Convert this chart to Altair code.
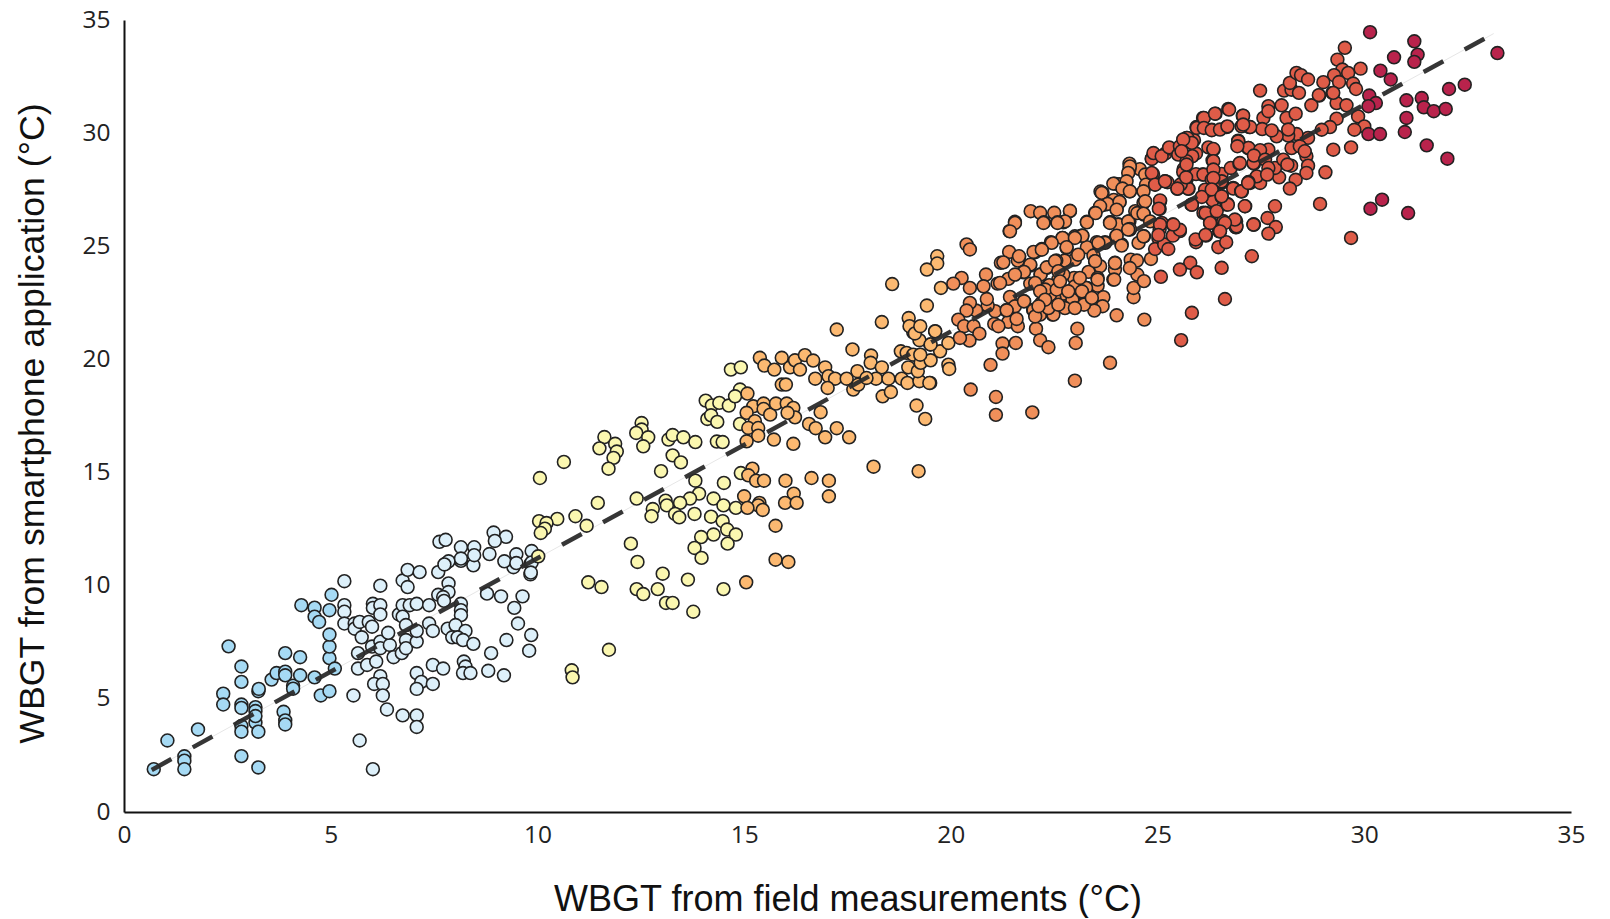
import altair as alt
import pandas as pd

band_names = ["a", "b", "c", "d", "e", "f", "g"]
band_colors = ["#A6DAF4", "#DDF0FA", "#FBF7B0", "#FCB971", "#F08F5A", "#DF5C48", "#B9234C"]

blue = [(.72,1.89),(1.05,3.16),(1.46,2.46),(1.46,2.27),(1.46,1.89),(1.79,3.65),(2.53,7.32),(2.4,5.23),(2.4,4.75),(2.84,6.43),(2.84,5.75),(2.84,4.75),(2.84,4.6),(2.84,3.8),(2.84,3.55),(2.84,2.47),(3.18,4.63),(3.18,4.46),(3.18,3.95),(3.25,3.55),(3.18,4.24),(3.25,1.97),(3.25,5.34),(3.26,5.44),(3.57,5.85),(3.69,6.14),(3.9,7.02),(3.9,6.2),(3.9,6.04),(3.86,4.43),(3.9,4.05),(3.9,3.87),(4.09,5.58),(4.09,5.45),(4.26,6.84),(4.26,6.04),(4.29,9.14),(4.61,5.95),(4.61,9.03),(4.61,8.63),(4.72,8.4),(4.76,5.15),(4.97,5.34),(4.97,6.8),(4.97,7.31),(4.97,7.84),(4.97,8.92),(5.02,9.6),(5.1,6.34)]

light = [(5.33,10.2),(5.33,9.14),(5.33,8.85),(5.33,8.33),(5.58,8.33),(5.58,8.1),(5.55,5.15),(5.7,3.16),(6.02,1.89),(5.66,7.02),(5.66,6.34),(5.75,7.72),(5.7,8.4),(5.92,8.4),(6.0,8.19),(5.88,6.5),(6.0,7.31),(6.1,6.65),(6.2,6.0),(6.05,5.66),(6.26,5.66),(6.26,5.15),(6.36,4.53),(6.2,10.0),(6.02,9.2),(6.02,9.02),(6.2,9.14),(6.2,8.73),(6.2,7.53),(6.2,7.24),(6.43,7.38),(6.39,7.92),(6.52,6.84),(6.72,7.02),(6.74,10.23),(6.86,9.94),(6.86,10.7),(7.15,10.6),(6.65,8.73),(6.74,9.14),(6.74,8.63),(6.82,8.26),(6.82,7.6),(6.82,7.24),(7.08,7.53),(7.08,8.0),(6.91,9.14),(7.08,9.2),(7.38,9.14),(7.38,8.33),(7.47,8.0),(7.08,6.14),(7.19,5.75),(7.08,5.44),(7.47,5.66),(7.47,6.5),(7.72,6.34),(6.74,4.27),(7.08,4.27),(7.08,3.76),(7.6,10.6),(7.77,10.96),(7.6,9.6),(7.85,10.1),(7.85,9.72),(7.72,9.5),(7.74,9.33),(8.15,9.2),(8.15,8.92),(8.15,8.7),(7.83,8.1),(8.02,8.26),(8.26,8.0),(7.94,7.72),(8.07,7.72),(8.2,7.6),(8.45,7.43),(8.22,6.65),(8.26,6.43),(8.2,6.14),(8.38,6.14),(8.81,6.24),(9.19,6.04),(8.88,7.02),(9.25,7.6),(9.53,8.33),(9.44,9.02),(9.64,9.53),(9.12,9.53),(8.78,9.65),(9.85,7.82),(9.8,7.13),(9.83,10.5),(9.42,10.82),(9.83,10.96),(8.15,11.1),(8.45,10.9),(7.63,11.94),(7.78,12.03),(7.85,11.08),(7.75,10.94),(8.15,11.7),(8.15,11.2),(8.47,11.7),(8.47,11.35),(8.94,12.35),(9.24,12.16),(8.97,11.98),(8.84,11.4),(9.2,11.08),(9.49,11.39),(9.49,11.0),(9.86,11.53),(9.86,11.03),(9.84,10.58)]

yellow = [(10.06,14.76),(10.64,15.47),(11.62,16.57),(11.5,16.07),(11.88,16.27),(11.92,15.93),(11.84,15.65),(11.72,15.17),(12.52,17.19),(12.52,16.9),(12.39,16.75),(12.68,16.56),(12.56,16.16),(13.17,16.46),(13.27,16.66),(13.53,16.56),(13.82,16.35),(14.34,16.37),(14.48,16.35),(13.27,15.76),(13.47,15.45),(12.99,15.06),(14.07,18.18),(14.22,17.97),(14.4,18.08),(14.63,17.96),(14.11,17.37),(14.2,17.53),(14.35,17.24),(14.68,19.55),(14.92,19.65),(14.9,18.67),(14.78,18.37),(14.9,17.15),(14.92,14.98),(13.82,14.64),(14.51,14.54),(13.91,14.07),(14.26,13.85),(14.5,13.55),(14.8,13.44),(13.69,13.85),(13.45,13.66),(13.1,13.76),(13.13,13.55),(12.79,13.39),(12.76,13.07),(13.33,13.17),(13.43,13.02),(13.8,13.17),(14.2,13.05),(14.48,12.85),(14.59,12.48),(14.8,12.26),(14.26,12.26),(13.96,12.15),(14.6,11.86),(13.8,11.67),(13.97,11.23),(12.4,13.85),(11.46,13.66),(10.92,13.07),(11.19,12.65),(10.48,12.95),(10.04,12.85),(10.22,12.77),(10.18,12.52),(10.08,12.33),(10.02,11.3),(12.26,11.86),(12.42,11.05),(13.03,10.53),(13.64,10.27),(14.5,9.85),(11.23,10.15),(11.55,9.94),(12.4,9.85),(12.56,9.63),(12.91,9.85),(13.11,9.24),(13.27,9.24),(13.77,8.85),(11.73,7.17),(10.83,6.26),(10.85,5.95)]

amber = [(15.08,18.49),(15.22,17.93),(15.06,17.64),(15.47,18.05),(15.47,17.81),(15.26,17.27),(15.1,16.97),(15.34,16.97),(15.34,16.63),(15.06,16.38),(15.63,17.56),(15.77,18.05),(16.03,18.05),(16.19,17.86),(16.23,17.44),(16.05,17.64),(15.38,20.07),(15.49,19.73),(15.73,19.55),(15.91,20.07),(16.11,19.65),(16.23,19.96),(16.35,19.55),(16.47,20.19),(16.67,19.95),(16.96,19.65),(16.72,19.15),(17.04,19.26),(17.2,19.15),(17.02,18.74),(15.91,18.89),(16.01,18.89),(17.48,19.15),(17.74,19.48),(17.62,20.44),(18.07,20.17),(18.06,19.85),(18.33,19.65),(18.19,19.15),(18.49,19.15),(18.81,19.15),(18.95,18.96),(19.24,19.04),(19.5,18.96),(17.64,18.67),(17.76,18.89),(17.96,19.18),(18.35,18.37),(18.55,18.56),(19.17,17.96),(19.38,17.37),(18.79,20.36),(18.93,20.29),(19.09,20.21),(18.97,19.65),(19.2,19.48),(19.27,19.85),(19.51,19.96),(19.74,20.36),(19.94,20.73),(19.5,20.66),(19.24,20.85),(19.09,21.2),(19.62,21.25),(19.94,19.77),(19.96,19.58),(17.24,21.32),(16.57,17.15),(16.73,16.96),(16.96,16.56),(17.24,16.96),(17.54,16.56),(16.85,17.67),(15.72,16.46),(16.19,16.27),(15.2,15.17),(15.1,14.88),(15.29,14.64),(15.48,14.64),(16.0,14.64),(16.63,14.76),(17.05,14.64),(18.13,15.26),(19.22,15.06),(15.0,13.95),(15.37,13.66),(15.34,13.55),(15.08,13.44),(15.45,13.35),(16.2,14.07),(15.99,13.66),(16.27,13.66),(17.05,13.95),(15.76,12.65),(15.76,11.15),(16.07,11.05),(15.05,10.15),(18.58,23.33),(18.33,21.65),(18.98,21.83),(19.0,21.47),(19.13,21.15),(19.67,24.56),(19.67,24.24),(19.42,23.97),(19.76,23.16),(19.42,22.38),(19.26,21.47),(19.62,21.24),(19.51,20.66),(19.26,20.21),(19.48,18.96)]

orange = [(20.38,25.08),(20.46,24.86),(20.26,23.6),(20.06,23.35),(20.46,23.16),(20.85,23.75),(20.79,23.23),(21.13,23.35),(21.39,23.56),(21.21,24.27),(21.41,24.75),(21.65,24.53),(21.62,24.37),(21.55,26.08),(21.42,25.67),(21.93,26.55),(22.16,26.48),(22.25,26.06),(22.5,26.48),(22.58,26.06),(22.72,26.06),(22.88,26.55),(23.29,26.08),(23.49,26.48),(23.67,27.36),(23.79,26.87),(24.01,26.65),(24.08,26.96),(23.96,27.77),(24.15,27.58),(24.33,27.43),(23.87,26.06),(24.05,25.96),(24.32,26.11),(24.33,25.74),(24.0,25.45),(24.13,25.08),(23.73,25.18),(23.53,25.18),(23.18,25.47),(23.0,25.44),(22.7,25.37),(22.42,25.18),(22.2,24.88),(22.04,24.74),(22.8,24.93),(23.29,24.96),(23.45,24.59),(23.49,24.34),(23.61,24.12),(23.33,23.87),(23.0,24.41),(22.75,24.37),(22.55,24.37),(22.32,24.04),(22.17,23.75),(21.92,24.15),(21.75,23.85),(22.04,23.35),(21.92,23.35),(22.36,23.26),(22.6,23.53),(22.98,23.6),(23.29,23.16),(23.55,23.26),(23.55,23.6),(23.69,22.75),(23.67,22.35),(23.21,22.47),(23.47,22.16),(22.92,22.65),(22.72,22.76),(22.5,22.76),(22.2,22.47),(21.99,22.2),(22.16,21.98),(22.46,21.98),(22.76,22.35),(21.77,22.57),(21.43,22.76),(21.55,22.35),(21.34,22.17),(21.39,21.66),(21.62,21.47),(21.59,21.79),(21.05,21.57),(21.15,21.47),(21.07,22.13),(20.89,22.38),(20.87,22.67),(20.61,22.16),(20.46,22.5),(20.38,22.16),(20.18,21.76),(20.32,21.47),(20.55,21.47),(20.69,21.14),(20.45,20.83),(20.22,20.95),(21.25,20.7),(21.57,20.73),(21.25,20.26),(20.96,19.76),(22.06,21.36),(22.16,20.85),(22.36,20.54),(23.06,21.36),(23.02,20.73),(23.85,19.85),(23.0,19.06),(24.01,21.95),(24.68,21.76),(24.42,22.75),(24.42,23.16),(24.51,23.75),(24.67,23.46),(23.93,23.53),(23.97,23.97),(23.97,24.27),(24.35,24.41),(24.5,24.37),(24.33,24.04),(24.84,24.44),(24.54,25.15),(24.67,25.44),(24.67,26.4),(24.66,26.92),(24.46,26.55),(24.74,27.73),(20.48,18.67),(21.09,18.34),(21.09,17.55),(21.97,17.66),(23.7,26.83),(23.94,27.05),(23.62,27.42),(24.07,27.74),(24.57,28.41),(24.32,28.42),(24.32,28.65),(24.86,28.87)]

orange_dense = [(24.33,28.53),(24.29,28.24),(24.25,27.87),(23.93,27.77),(24.15,27.55),(24.33,27.43),(23.65,27.36),(23.79,26.87),(24.08,26.96),(24.01,26.62),(23.61,26.77),(23.5,26.47),(22.88,26.57),(23.29,26.06),(23.85,26.06),(24.05,25.96),(24.29,26.1),(24.33,25.76),(24.7,28.17),(24.72,27.72),(24.66,27.43),(24.7,26.99),(24.51,26.47),(24.66,26.44),(24.82,26.1),(24.66,25.44),(23.16,25.47),(22.76,26.1),(21.55,26.03),(21.43,25.66),(22.24,26.03),(22.58,26.03),(23.85,26.03),(24.29,25.74),(24.01,25.47),(22.7,25.37),(23.18,25.47),(23.0,25.37),(22.44,25.15),(22.0,24.75),(22.2,24.85),(22.8,24.96),(23.73,25.15),(23.57,25.15),(24.13,25.03),(21.65,24.56),(21.27,24.29),(21.92,24.19),(21.77,23.87),(21.55,23.75),(21.19,23.38),(22.17,23.75),(22.32,24.07),(22.52,24.34),(23.08,24.63),(23.49,24.34),(23.97,24.26),(23.95,23.53),(22.04,23.38),(22.38,23.28),(22.72,23.75),(22.6,23.9),(23.0,23.23),(23.27,23.16),(23.55,23.53),(21.77,22.57),(21.35,22.17),(22.0,22.17),(22.18,22.47),(22.5,22.72),(22.94,22.64),(23.22,22.42),(22.76,22.27),(22.48,21.98),(22.04,21.9),(22.36,22.27),(22.4,22.86),(22.28,23.09),(22.56,23.09),(22.84,23.01),(23.12,23.6),(22.64,23.45),(22.16,23.01),(23.17,23.01),(23.41,22.72),(22.28,22.64),(22.6,22.42),(23.0,22.27),(22.12,22.35)]

red = [(24.94,27.73),(25.18,27.88),(25.48,27.54),(25.75,27.54),(25.7,27.95),(25.06,26.99),(25.05,26.65),(25.1,26.03),(25.05,25.74),(25.02,25.37),(24.94,24.88),(25.16,25.08),(25.26,24.88),(25.37,25.96),(25.54,25.67),(25.37,25.47),(25.83,26.84),(25.93,25.18),(26.17,25.47),(26.47,24.96),(26.66,25.18),(26.51,25.67),(26.27,26.06),(26.11,26.48),(26.33,27.07),(26.15,27.43),(26.55,27.18),(26.69,26.87),(26.59,26.11),(26.9,26.11),(26.9,25.84),(27.12,26.77),(27.32,25.96),(27.28,24.56),(26.55,24.05),(25.79,24.27),(25.54,23.97),(25.95,23.85),(25.08,23.65),(26.63,22.67),(25.83,22.06),(25.57,20.85),(26.83,27.58),(27.04,27.43),(27.24,27.8),(26.55,27.8),(26.35,27.66),(29.53,33.77),(29.35,33.25),(29.47,32.81),(29.61,32.66),(29.91,32.85),(29.27,32.56),(29.39,32.26),(29.73,32.19),(29.8,31.95),(29.23,31.78),(29.01,32.25),(28.91,31.66),(28.72,31.23),(29.33,31.33),(29.57,31.23),(29.33,30.64),(29.85,30.74),(30.0,30.3),(29.76,30.15),(29.17,30.27),(28.97,30.15),(28.64,29.79),(28.36,29.96),(28.16,29.89),(28.24,29.34),(28.6,28.98),(28.64,28.56),(28.6,28.24),(28.23,28.56),(28.34,27.94),(28.2,27.55),(27.94,28.05),(27.84,28.46),(29.06,28.27),(29.25,29.27),(29.68,29.37),(28.93,26.87),(29.68,25.37),(27.84,26.77),(27.66,26.25),(27.86,25.85),(27.68,25.56),(27.33,25.96),(27.11,26.77),(26.89,25.85),(26.59,26.1),(26.49,25.66),(26.27,26.03),(26.17,26.47),(26.39,26.54),(26.67,26.84),(26.33,27.03),(26.17,27.43),(25.82,26.84),(25.74,27.55),(25.7,28.05),(26.09,28.17),(26.35,28.36),(26.55,28.2),(26.55,27.84),(26.83,27.55),(27.02,27.43),(26.77,28.46),(26.98,28.65),(27.22,27.84),(27.39,28.05),(27.48,27.8),(27.33,28.65),(27.68,29.27),(27.19,29.34),(26.95,29.67),(27.56,30.67),(27.22,30.27),(27.53,30.18),(27.88,29.86),(27.76,30.12),(27.06,30.77),(26.71,31.07),(26.4,30.86),(26.1,30.67),(25.94,30.27),(26.31,30.15),(26.67,30.27),(26.23,29.37),(26.35,29.27),(25.82,29.57),(25.7,29.79),(25.84,28.98),(26.33,28.8),(27.48,31.88),(27.68,31.19),(27.68,30.97),(28.0,31.23),(28.12,30.67),(28.34,30.86),(28.06,31.88),(28.24,31.92),(28.42,31.78),(28.2,32.22),(28.36,32.66),(28.47,32.56),(28.64,32.37),(25.54,25.73),(25.92,25.3),(24.91,29.0),(25.19,29.1),(24.89,28.19),(25.24,27.83),(25.56,29.32),(25.31,29.32),(25.93,29.1),(25.63,28.41),(25.56,27.74),(25.93,28.19),(25.88,29.69)]

red_dense = [(24.86,28.24),(24.94,27.72),(25.18,27.87),(25.06,27.03),(25.03,26.66),(24.86,28.86),(24.9,29.12),(25.1,28.98),(25.28,29.37),(25.5,29.05),(25.54,29.42),(25.72,29.79),(25.83,29.57),(25.84,28.98),(25.7,28.76),(25.62,28.28),(25.69,28.05),(25.48,27.55),(25.95,30.23),(26.12,30.67),(26.12,30.23),(26.31,30.13),(26.51,30.16),(26.69,30.3),(26.39,30.86),(26.73,31.04),(27.07,30.77),(27.24,30.27),(27.03,30.3),(26.95,29.64),(27.2,29.35),(26.35,29.3),(26.35,28.76),(26.11,28.17),(26.35,28.39),(26.99,28.68),(27.32,28.68),(27.4,28.09),(27.2,27.84),(27.03,27.43),(26.55,27.87),(26.31,27.95),(26.15,27.5),(26.55,27.18),(26.07,27.18),(25.83,26.84),(26.16,26.47),(26.43,26.55),(26.7,26.84),(27.32,25.96),(26.91,25.88),(26.87,26.18),(26.63,26.03),(26.27,26.03),(26.51,25.66),(26.16,25.5),(25.38,25.96),(25.06,25.96),(25.02,25.5),(27.07,30.38),(26.93,29.42),(27.48,29.25),(27.33,29.01),(27.6,28.83),(28.04,28.83),(28.14,28.61),(27.68,28.46),(27.65,28.17),(27.19,27.8),(26.35,28.02),(26.31,27.51),(26.55,27.21),(25.7,28.61),(25.62,29.72),(25.58,29.2),(28.16,30.16),(28.44,29.42),(28.56,29.2),(28.9,31.68),(29.25,31.78)]

crimson = [(30.14,34.46),(31.21,34.06),(31.29,33.47),(31.21,33.15),(30.72,33.35),(30.39,32.76),(30.64,32.37),(33.22,33.54),(32.43,32.14),(32.05,31.95),(31.39,31.55),(31.02,31.45),(31.44,31.14),(31.68,30.97),(31.97,31.07),(31.02,30.67),(30.98,30.05),(30.12,31.66),(30.28,31.33),(30.1,31.19),(30.1,29.96),(30.38,29.96),(31.51,29.46),(32.01,28.87),(30.15,26.66),(30.43,27.06),(31.06,26.47)]

fit_x = [0.67, 33.13]
fit_y = [1.86, 34.4]
ticks = [0, 5, 10, 15, 20, 25, 30, 35]

bands = [blue, light, yellow, amber, orange + orange_dense, red + red_dense, crimson]
rows = [{"x": p[0], "y": p[1], "band": n} for n, pts in zip(band_names, bands) for p in pts]
df = pd.DataFrame(rows)
fit = pd.DataFrame({"x": fit_x, "y": fit_y})

x_axis = alt.Axis(values=ticks, grid=False, ticks=False, labelFont="Open Sans", labelFontSize=24.5,
                  labelColor="#222222", labelPadding=11, labelFlush=False, domainColor="#111111", domainWidth=2,
                  title="WBGT from field measurements (°C)", titleFont="Liberation Sans",
                  titleFontSize=36, titleFontWeight="normal", titleColor="#111111", titleY=70)
y_axis = alt.Axis(values=ticks, grid=False, ticks=False, labelFont="Open Sans", labelFontSize=24.5,
                  labelColor="#222222", labelPadding=14, labelFlush=False, domainColor="#111111", domainWidth=2,
                  title="WBGT from smartphone application (°C)", titleFont="Liberation Sans",
                  titleFontSize=35.7, titleFontWeight="normal", titleColor="#111111", titleY=403, titleX=-74)
xs = alt.Scale(domain=[0, 35], nice=False)
ys = alt.Scale(domain=[0, 35], nice=False)

points = alt.Chart(df).mark_point(filled=True, size=165, stroke="#222222", strokeWidth=1.6, opacity=1).encode(
    x=alt.X("x:Q", scale=xs, axis=x_axis),
    y=alt.Y("y:Q", scale=ys, axis=y_axis),
    fill=alt.Fill("band:N", scale=alt.Scale(domain=band_names, range=band_colors), legend=None),
)
faint = alt.Chart(fit).mark_line(color="#e6e6e6", strokeWidth=1).encode(x=alt.X("x:Q", scale=xs), y=alt.Y("y:Q", scale=ys))
dashed = alt.Chart(fit).mark_line(color="#2b2b2b", strokeWidth=4.5, strokeDash=[22.5, 24.3], opacity=0.95).encode(
    x=alt.X("x:Q", scale=xs), y=alt.Y("y:Q", scale=ys))

chart = (faint + points + dashed).properties(
    width=1447, height=792, autosize="none",
    padding={"left": 116, "top": 12, "right": 30, "bottom": 106},
    background="white",
).configure_view(stroke=None)

chart.save("out.html", embed_options={"renderer": "svg", "actions": False})
